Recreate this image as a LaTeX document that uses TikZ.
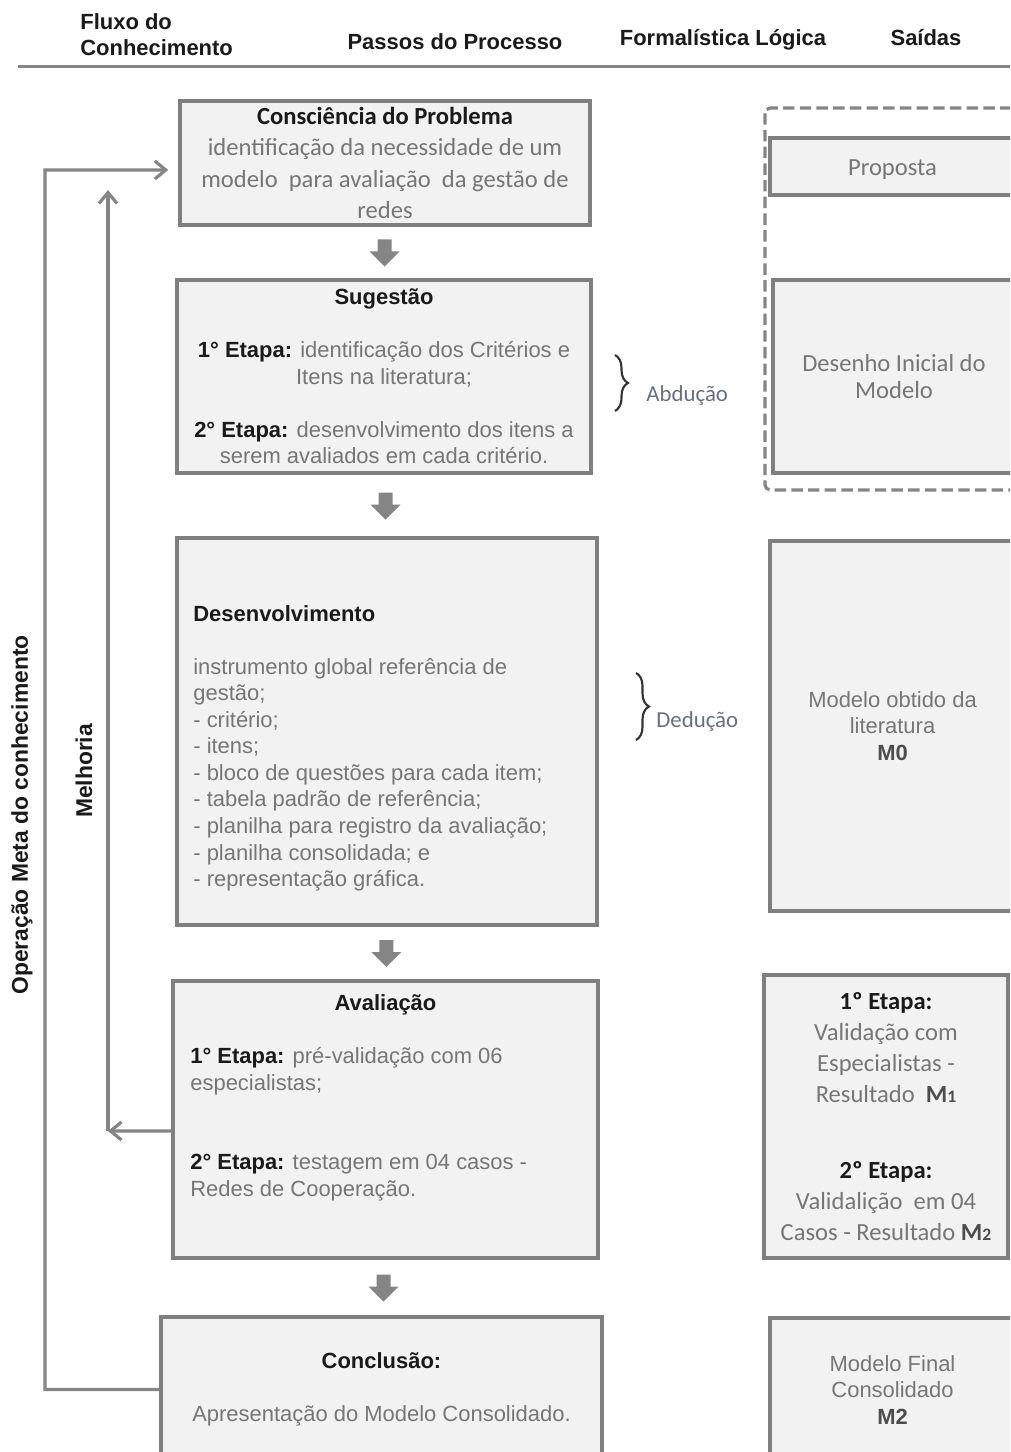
\documentclass[tikz,border=0pt]{standalone}
\usepackage{fontspec}
\setmainfont{Liberation Sans}
\newfontfamily\calibri{Carlito}
\usetikzlibrary{calc,arrows.meta,decorations.pathreplacing,positioning}

\definecolor{boxfill}{HTML}{F2F2F2}
\definecolor{boxline}{HTML}{7F7F7F}
\definecolor{bodygray}{HTML}{767676}
\definecolor{titleblack}{HTML}{1A1A1A}
\definecolor{linegray}{HTML}{858585}
\definecolor{bracegray}{HTML}{333333}
\definecolor{logicblue}{HTML}{66717D}
\definecolor{mgray}{HTML}{4D4D4D}

\tikzset{
  procbox/.style={draw=boxline, fill=boxfill, line width=2pt, inner sep=0pt},
  arialtxt/.style={text=bodygray, font=\fontsize{12.5}{15.1}\selectfont},
  calibritxt/.style={text=bodygray, font=\calibri\fontsize{14}{18}\selectfont},
  headtxt/.style={text=titleblack, font=\bfseries\fontsize{12.5}{14.7}\selectfont},
  loopline/.style={draw=linegray, line width=1.8pt},
  barb/.style={-{Straight Barb[length=2.2mm,width=3.6mm]}},
  lbrace/.style={draw=bracegray, line width=1.2pt, decorate, decoration={brace, amplitude=#1}},
  logictxt/.style={text=logicblue, font=\calibri\fontsize{13}{15}\selectfont, anchor=west, inner sep=0pt},
  dashbox/.style={draw=linegray, line width=1.8pt, dash pattern=on 6.5pt off 3pt, rounded corners=3pt},
}

\newcommand{\ttl}[1]{\textcolor{titleblack}{\textbf{#1}}}
\newcommand{\mtag}[2]{\textcolor{mgray}{\textbf{#1{\fontsize{10}{10}\selectfont #2}}}}
% fat arrow half way between two boxes
\newcommand{\fatarrow}[2]{%
  \path ($(#1.south)!0.5!(#2.north)$) coordinate (fa);
  \fill[linegray] ([shift={(-7,-13)}]fa) -- ([shift={(7,-13)}]fa) -- ([shift={(7,-1)}]fa)
    -- ([shift={(15,-1)}]fa) -- ([shift={(0,14)}]fa) -- ([shift={(-15,-1)}]fa)
    -- ([shift={(-7,-1)}]fa) -- cycle;}

\begin{document}
\begin{tikzpicture}[x=0.02cm, y=-0.02cm]
			%%%%% START %%%%%
			\useasboundingbox (0,0) rectangle (1010,1452);
			\clip (0,0) rectangle (1010,1452);
			
			\node[headtxt, align=left, anchor=west, inner sep=0pt] (hfluxo) at (80,35) {Fluxo do\\Conhecimento};
			\node[headtxt] (hpassos) at (455,42) {Passos do Processo};
			\node[headtxt] (hformal) at (723,40) {Formalística Lógica};
			\node[headtxt] (hsaidas) at (926,38) {Saídas};
			\draw[draw=linegray, line width=1.7pt] (18,67) -- (1010,67);
			
			\node[procbox, calibritxt, align=center, minimum width=8.2cm, minimum height=2.48cm] (consc) at (385,163)
			  {\ttl{Consciência do Problema}\\ identificação da necessidade de um\\ modelo\ \ para avaliação\ \ da gestão de\\ redes};
			
			\node[procbox, arialtxt, align=center, minimum width=8.28cm, minimum height=3.86cm] (sug) at (384,376.5)
			  {\ttl{Sugestão}\\[15.1pt] \ttl{1° Etapa:} identificação dos Critérios e\\ Itens na literatura;\\[15.1pt]
			   \ttl{2° Etapa:} desenvolvimento dos itens a\\ serem avaliados em cada critério.};
			
			\node[procbox, minimum width=8.4cm, minimum height=7.74cm] (desen) at (387,731.5) {};
			\node[arialtxt, align=left, anchor=north west, inner sep=0pt] (desentxt) at (193,605)
			  {\ttl{Desenvolvimento}\\[15.1pt] instrumento global referência de\\ gestão;\\ - critério;\\ - itens;\\
			   - bloco de questões para cada item;\\ - tabela padrão de referência;\\
			   - planilha para registro da avaliação;\\ - planilha consolidada; e\\ - representação gráfica.};
			
			\node[procbox, minimum width=8.5cm, minimum height=5.54cm] (aval) at (385.5,1119.5) {};
			\node[arialtxt, inner sep=0pt] (avaltitle) at (385.5,1005) {\ttl{Avaliação}};
			\node[arialtxt, align=left, anchor=north west, inner sep=0pt] (avaltxt) at (190,1047)
			  {\ttl{1° Etapa:} pré-validação com 06\\ especialistas;\\[30.2pt]
			   \ttl{2° Etapa:} testagem em 04 casos -\\ Redes de Cooperação.};
			
			\node[procbox, arialtxt, align=center, minimum width=8.82cm, minimum height=2.9cm] (conc) at (381.5,1389.5)
			  {\ttl{Conclusão:}\\[15.1pt] Apresentação do Modelo Consolidado.};
			
			\fatarrow{consc}{sug}
			\fatarrow{sug}{desen}
			\fatarrow{desen}{aval}
			\fatarrow{aval}{conc}
			
			\draw[dashbox] (765,108) rectangle (1030,490);
			\node[procbox, calibritxt, minimum width=4.9cm, minimum height=1.14cm, text height=0.48cm, text depth=0.1cm] (prop) at (892.5,166.5) {Proposta};
			\node[procbox, calibritxt, align=center, font=\calibri\fontsize{14}{15.3}\selectfont,
			  minimum width=4.84cm, minimum height=3.86cm] (desenho) at (894,376.5) {Desenho Inicial do\\ Modelo};
			\node[procbox, arialtxt, align=center, minimum width=4.9cm, minimum height=7.4cm] (mzero) at (892.5,726)
			  {Modelo obtido da\\ literatura\\ \textcolor{mgray}{\textbf{M0}}};
			\node[procbox, calibritxt, align=center, font=\calibri\fontsize{14}{17.8}\selectfont,
			  minimum width=4.88cm, minimum height=5.66cm] (etapas) at (886,1116.5)
			  {\ttl{1º Etapa:}\\ Validação com\\ Especialistas -\\ Resultado\ \ \mtag{M}{1}\\[25pt]
			   \ttl{2º Etapa:}\\ Validalição\ \ em 04\\ Casos - Resultado \mtag{M}{2}};
			\node[procbox, arialtxt, align=center, minimum width=4.9cm, minimum height=2.88cm] (mfinal) at (892.5,1390)
			  {Modelo Final\\ Consolidado\\ \textcolor{mgray}{\textbf{M2}}};
			
			\draw[lbrace=0.26cm] (615,355) -- (615,411);
			\node[logictxt] (abd) at (646,395) {Abdução};
			\draw[lbrace=0.26cm] (636,673) -- (636,740);
			\node[logictxt] (ded) at (656,721) {Dedução};
			
			\coordinate (loopa) at (45,170);
			\coordinate (impa) at (108,1131);
			\coordinate (impb) at (108,190);
			\draw[loopline, barb, shorten >=0.2cm] (conc.west) -| (loopa) -- ([yshift=-0.14cm]consc.west);
			\draw[loopline, barb] ([yshift=-0.23cm]aval.west) -- (impa);
			\draw[loopline, barb] (impa) -- (impb);
			
			\node[headtxt, rotate=90, font=\bfseries\fontsize{13}{15}\selectfont] (opmeta) at (22,815) {Operação Meta do conhecimento};
			\node[headtxt, rotate=90, font=\bfseries\fontsize{13}{15}\selectfont] (melhoria) at (84,771) {Melhoria};
			
			%%%%% END %%%%%
\end{tikzpicture}
\end{document}
